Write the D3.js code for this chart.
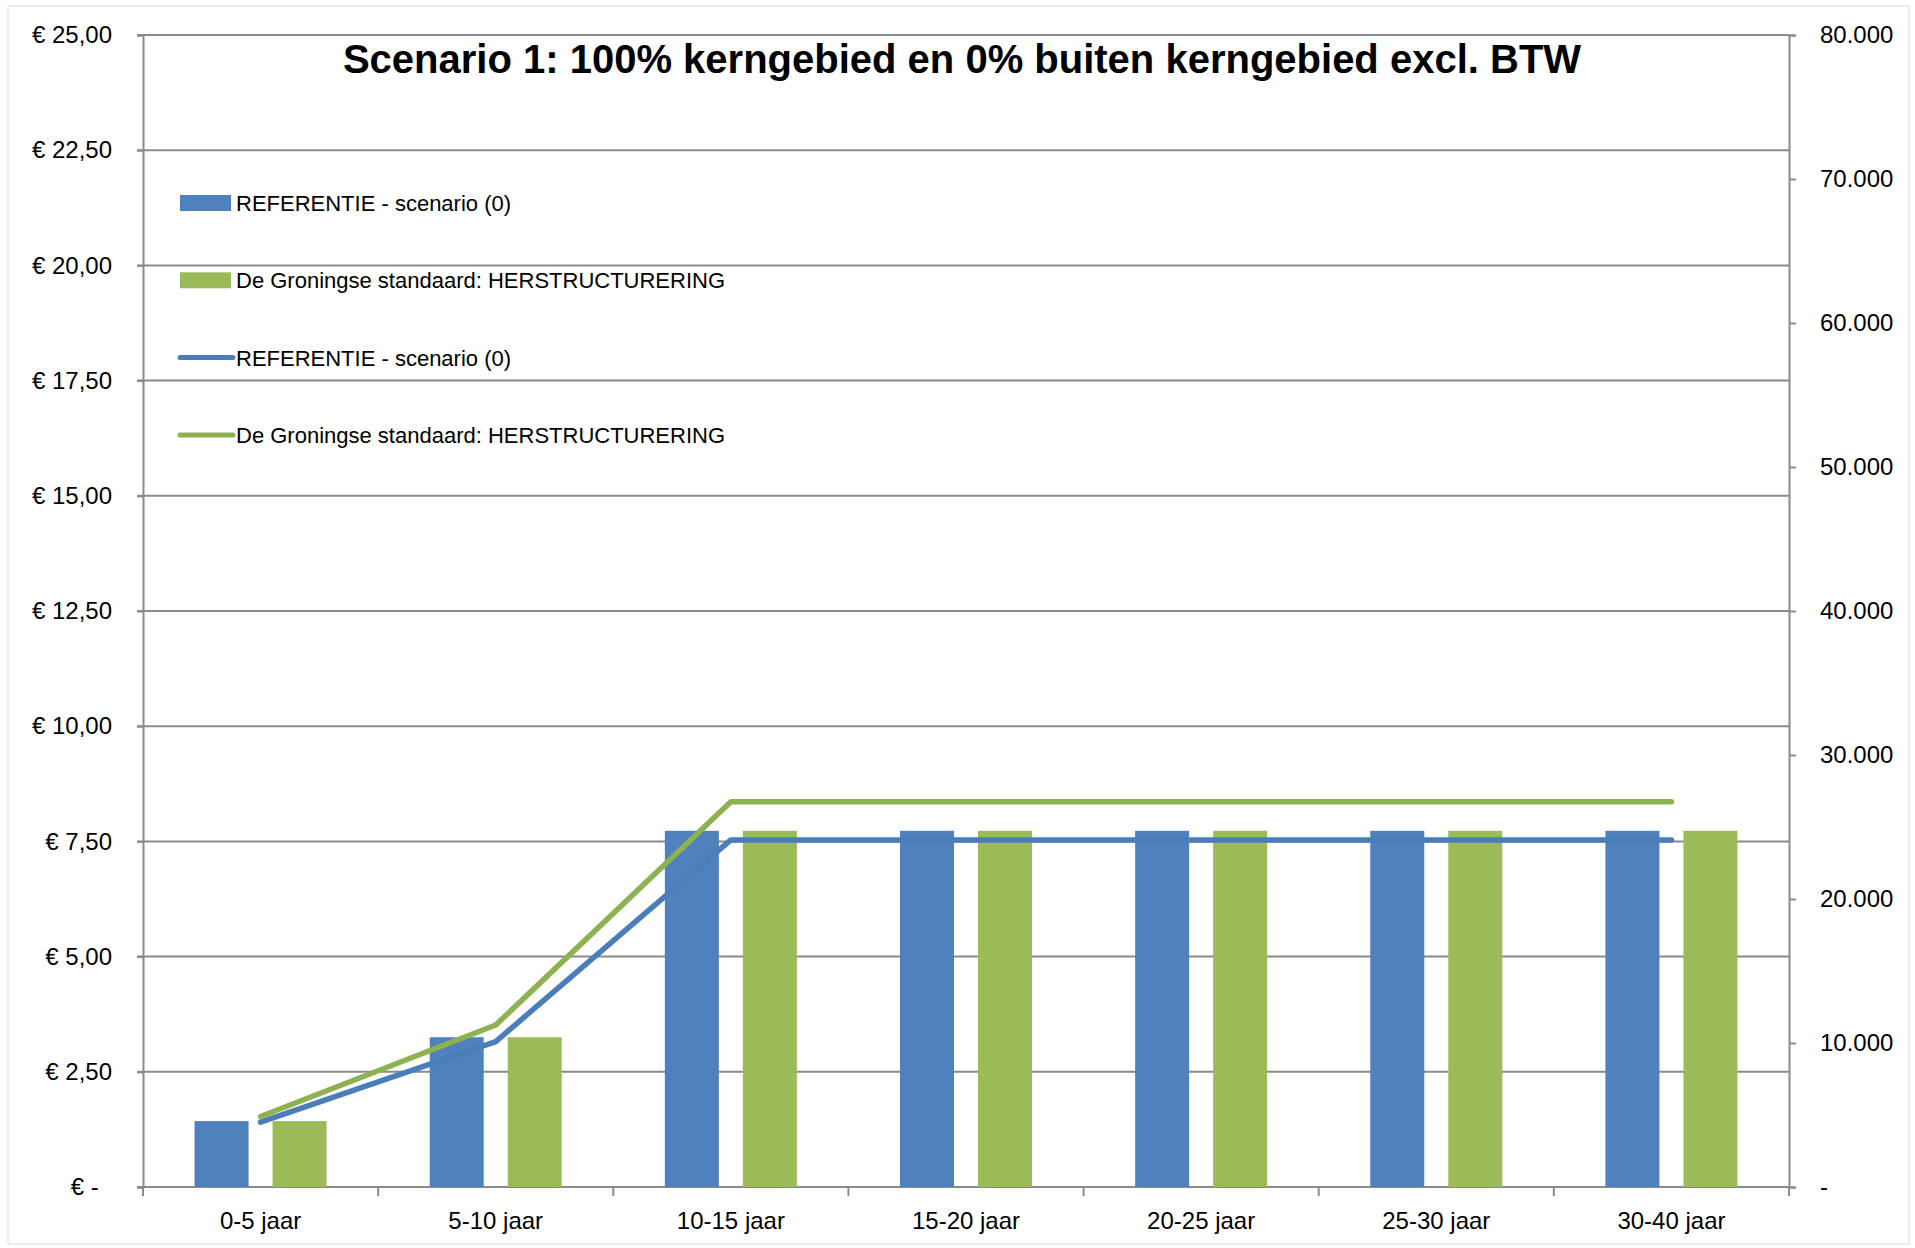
<!DOCTYPE html>
<html>
<head>
<meta charset="utf-8">
<script src="https://cdn.jsdelivr.net/npm/d3@7"></script>
<style>
  body { margin: 0; background: #fff; }
  text { font-family: "Liberation Sans", Arial, sans-serif; fill: #000; }
</style>
</head>
<body>
<svg id="chart"></svg>
<script>
const width = 1915;
const height = 1248;

// data
const categories = ['0-5 jaar', '5-10 jaar', '10-15 jaar', '15-20 jaar', '20-25 jaar', '25-30 jaar', '30-40 jaar'];
const barReferentie = [1.43, 3.25, 7.73, 7.73, 7.73, 7.73, 7.73];
const barGroningse = [1.43, 3.25, 7.73, 7.73, 7.73, 7.73, 7.73];
const lineReferentie = [4500, 10100, 24100, 24100, 24100, 24100, 24100];
const lineGroningse = [4900, 11250, 26750, 26750, 26750, 26750, 26750];
const leftTicks = [0, 2.5, 5, 7.5, 10, 12.5, 15, 17.5, 20, 22.5, 25];
const rightTicks = [0, 10000, 20000, 30000, 40000, 50000, 60000, 70000, 80000];
const seriesNames = ['REFERENTIE - scenario (0)', 'De Groningse standaard: HERSTRUCTURERING'];

const barColors = ['#4f81bd', '#9bbb59'];
const lineColors = ['#4a7ebb', '#8db24f'];
const gridColor = '#8a8a8a';

const margin = {left: 143, right: width - 1789, top: 35, bottom: height - 1187};

const svg = d3.select('#chart')
    .attr('width', width)
    .attr('height', height);

svg.append('rect')
    .attr('x', 8).attr('y', 6)
    .attr('width', width - 14).attr('height', height - 10)
    .attr('fill', '#fff')
    .attr('stroke', '#d9d9d9');

const x = d3.scaleBand()
    .domain(categories)
    .range([margin.left, width - margin.right]);

const xSub = d3.scaleBand()
    .domain([0, 1])
    .range([0, x.bandwidth()])
    .paddingInner(0.3077)
    .paddingOuter(0.661);

const yLeft = d3.scaleLinear()
    .domain([0, 25])
    .range([height - margin.bottom, margin.top]);

const yRight = d3.scaleLinear()
    .domain([0, 80000])
    .range([height - margin.bottom, margin.top]);

// gridlines
svg.append('g')
    .selectAll('line')
    .data(leftTicks)
    .enter().append('line')
    .attr('x1', margin.left - 6)
    .attr('x2', width - margin.right)
    .attr('y1', d => yLeft(d))
    .attr('y2', d => yLeft(d))
    .attr('stroke', gridColor)
    .attr('stroke-width', 2);

// left axis
const leftAxis = svg.append('g')
    .attr('transform', `translate(${margin.left},0)`)
    .call(d3.axisLeft(yLeft)
        .tickValues(leftTicks)
        .tickSize(6)
        .tickPadding(25)
        .tickFormat(d => d === 0 ? '€ -\u00a0\u00a0' : '€ ' + d.toFixed(2).replace('.', ',')));
leftAxis.select('.domain').attr('stroke', gridColor).attr('stroke-width', 2);
leftAxis.selectAll('.tick line').attr('stroke', gridColor).attr('stroke-width', 2);
leftAxis.selectAll('text').attr('font-size', 24).attr('fill', '#000');

// right axis
const rightAxis = svg.append('g')
    .attr('transform', `translate(${width - margin.right},0)`)
    .call(d3.axisRight(yRight)
        .tickValues(rightTicks)
        .tickSize(7)
        .tickPadding(24)
        .tickFormat(d => d === 0 ? '-' : d3.format(',')(d).replace(/,/g, '.')));
rightAxis.select('.domain').attr('stroke', gridColor).attr('stroke-width', 2);
rightAxis.selectAll('.tick line').attr('stroke', gridColor).attr('stroke-width', 2);
rightAxis.selectAll('text').attr('font-size', 24).attr('fill', '#000');

// bottom axis
const bottomAxis = svg.append('g')
    .attr('transform', `translate(0,${height - margin.bottom})`)
    .call(d3.axisBottom(x).tickSize(0).tickPadding(25));
bottomAxis.select('.domain').remove();
bottomAxis.selectAll('text').attr('font-size', 24).attr('fill', '#000');

const xBounds = categories.map(c => x(c)).concat([x.range()[1]]);
svg.append('g')
    .selectAll('line')
    .data(xBounds)
    .enter().append('line')
    .attr('x1', d => d).attr('x2', d => d)
    .attr('y1', height - margin.bottom)
    .attr('y2', height - margin.bottom + 9)
    .attr('stroke', gridColor)
    .attr('stroke-width', 2);

// bars
const barSeries = [barReferentie, barGroningse];
barSeries.forEach((vals, s) => {
    svg.append('g')
        .selectAll('rect')
        .data(vals)
        .enter().append('rect')
        .attr('x', (d, i) => x(categories[i]) + xSub(s))
        .attr('width', xSub.bandwidth())
        .attr('y', d => yLeft(d))
        .attr('height', d => yLeft(0) - yLeft(d))
        .attr('fill', barColors[s]);
});

// lines
const line = d3.line()
    .x((d, i) => x(categories[i]) + x.bandwidth() / 2)
    .y(d => yRight(d));

[lineReferentie, lineGroningse].forEach((vals, s) => {
    svg.append('path')
        .datum(vals)
        .attr('d', line)
        .attr('fill', 'none')
        .attr('stroke', lineColors[s])
        .attr('stroke-width', 5.5)
        .attr('stroke-linejoin', 'round')
        .attr('stroke-linecap', 'round');
});

// title
svg.append('text')
    .attr('x', 962)
    .attr('y', 73)
    .attr('text-anchor', 'middle')
    .attr('font-size', 40)
    .attr('font-weight', 'bold')
    .text('Scenario 1: 100% kerngebied en 0% buiten kerngebied excl. BTW');

// legend
const legendItems = [
    {type: 'bar', color: barColors[0], name: seriesNames[0]},
    {type: 'bar', color: barColors[1], name: seriesNames[1]},
    {type: 'line', color: lineColors[0], name: seriesNames[0]},
    {type: 'line', color: lineColors[1], name: seriesNames[1]}
];
const legend = svg.append('g')
    .selectAll('g')
    .data(legendItems)
    .enter().append('g')
    .attr('transform', (d, i) => `translate(180,${203 + i * 77.3})`);

legend.filter(d => d.type === 'bar').append('rect')
    .attr('x', 0).attr('y', -8)
    .attr('width', 51).attr('height', 16)
    .attr('fill', d => d.color);
legend.filter(d => d.type === 'line').append('line')
    .attr('x1', 0).attr('x2', 53)
    .attr('y1', 0).attr('y2', 0)
    .attr('stroke', d => d.color)
    .attr('stroke-width', 5)
    .attr('stroke-linecap', 'round');
legend.append('text')
    .attr('x', 56)
    .attr('y', 8)
    .attr('font-size', 22)
    .text(d => d.name);
</script>
</body>
</html>
